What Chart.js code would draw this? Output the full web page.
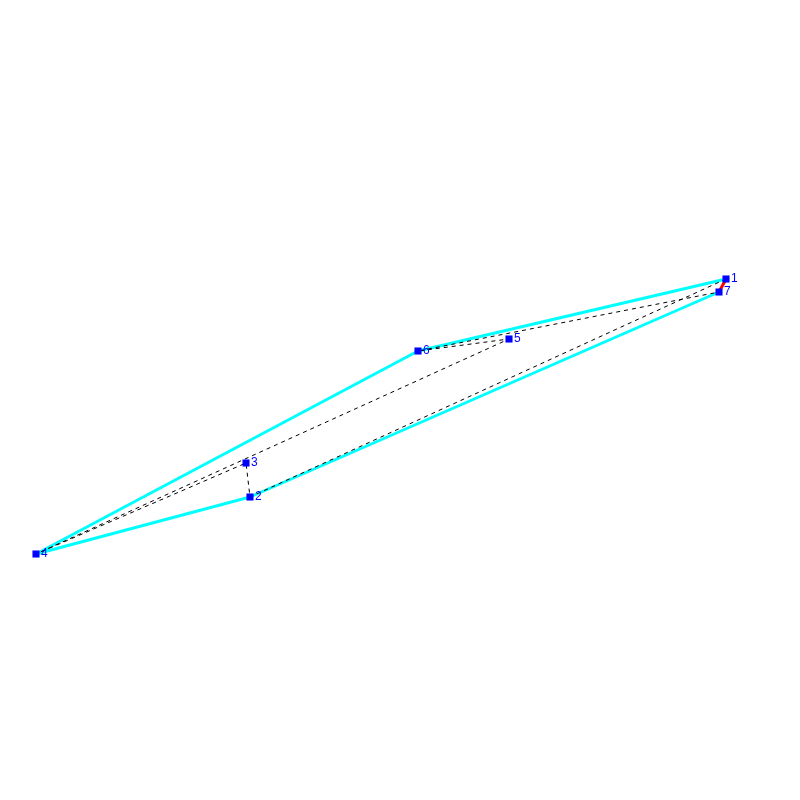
<!DOCTYPE html>
<html>
<head>
<meta charset="utf-8">
<title>Tour</title>
<script src="https://cdn.jsdelivr.net/npm/chart.js@4/dist/chart.umd.min.js"></script>
<style>
    html, body { margin: 0; padding: 0; background: #fff; }
    canvas { display: block; }
</style>
</head>
<body>
<canvas id="tourChart" width="800" height="800"></canvas>
<script>
// Toa do doc tu hinh goc
const pointLabels = ['1', '2', '3', '4', '5', '6', '7'];
const pointX = [726, 250, 246, 36, 509, 418, 719];
const pointY = [279, 497, 463, 554, 339, 351, 292];

// Thu tu cac dinh cho tung duong (so thu tu cua diem)
const dashedPath = [1, 2, 3, 4, 5, 6, 7];
const hullPath = [1, 6, 4, 2, 7];
const closingEdge = [7, 1];

const toXY = ids => ids.map(id => ({ x: pointX[id - 1], y: pointY[id - 1] }));

// Ve so canh moi diem
const labelPlugin = {
    id: 'pointNumbers',
    afterDatasetsDraw(chart) {
        const { ctx, scales } = chart;
        ctx.save();
        ctx.fillStyle = '#0000ff';
        ctx.font = '12px "Liberation Sans"';
        ctx.textBaseline = 'middle';
        pointLabels.forEach((label, i) => {
            ctx.fillText(label, scales.x.getPixelForValue(pointX[i]) + 5, scales.y.getPixelForValue(pointY[i]));
        });
        ctx.restore();
    }
};

const lineDefaults = { showLine: true, pointRadius: 0, fill: false, tension: 0, borderJoinStyle: 'round' };

new Chart(document.getElementById('tourChart'), {
    type: 'scatter',
    data: {
        datasets: [
            { label: 'points', data: toXY(pointLabels.map(Number)), showLine: false, pointStyle: 'rect', pointRadius: 5, pointBackgroundColor: '#0000ff', pointBorderWidth: 0, order: 1 },
            { label: 'dashed', data: toXY(dashedPath), ...lineDefaults, borderColor: '#000000', borderWidth: 1, borderDash: [4, 4], order: 2 },
            { label: 'closing', data: toXY(closingEdge), ...lineDefaults, borderColor: '#ff0000', borderWidth: 3, order: 3 },
            { label: 'hull', data: toXY(hullPath), ...lineDefaults, borderColor: '#00ffff', borderWidth: 3, order: 4 }
        ]
    },
    options: {
        responsive: false,
        animation: false,
        devicePixelRatio: 1,
        layout: { padding: 0, autoPadding: false },
        plugins: { legend: { display: false }, tooltip: { enabled: false } },
        scales: {
            x: { display: false, min: 0, max: 800 },
            y: { display: false, min: 0, max: 800, reverse: true }
        }
    },
    plugins: [labelPlugin]
});
</script>
</body>
</html>
